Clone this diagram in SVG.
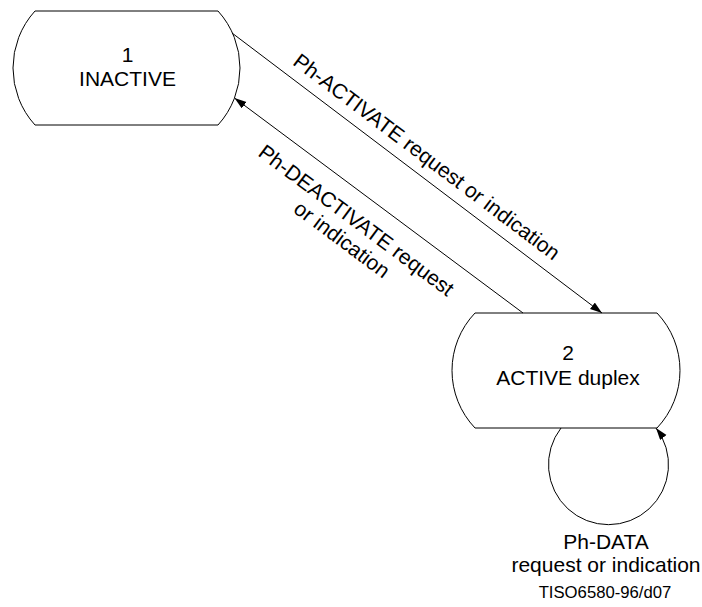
<svg xmlns="http://www.w3.org/2000/svg" width="702" height="607" viewBox="0 0 702 607">
<style>
.node{fill:#fff;stroke:#000;stroke-width:1}
.conn{fill:none;stroke:#000;stroke-width:1}
text{font-family:"Liberation Sans",Arial,sans-serif;font-size:21px;fill:#000;text-anchor:middle}
.small{font-size:16.7px}
</style>
<defs>
<marker id="arr" markerUnits="userSpaceOnUse" markerWidth="13" markerHeight="9" refX="12" refY="4" orient="auto">
<path d="M0,0 L12,4 L0,8 Z" fill="#000"/>
</marker>
</defs>
<rect width="702" height="607" fill="#fff"/>
<g id="node1">
<path class="node" d="M35,11 H218 A84.8,84.8 0 0 1 218,125 H35 A84.8,84.8 0 0 1 35,11 Z"/>
<text x="127.5" y="62">1</text>
<text x="127.5" y="86">INACTIVE</text>
</g>
<g id="node2">
<path class="node" d="M475,313 H657 A83.4,83.4 0 0 1 657,428 H475 A83.4,83.4 0 0 1 475,313 Z"/>
<text x="568" y="360">2</text>
<text x="568" y="385">ACTIVE duplex</text>
</g>
<g id="connectors">
<path class="conn" d="M232,33 L602,313" marker-end="url(#arr)"/>
<path class="conn" d="M523,313 L234.5,98" marker-end="url(#arr)"/>
<path class="conn" d="M561,428 A60,60 0 1 0 656,428" marker-end="url(#arr)"/>
</g>
<g id="labels">
<text transform="translate(422.5,162.5) rotate(37)">Ph-ACTIVATE request or indication</text>
<g transform="translate(352,226) rotate(36.7)">
<text x="0" y="0">Ph-DEACTIVATE request</text>
<text x="0" y="24">or indication</text>
</g>
<text x="606" y="549">Ph-DATA</text>
<text x="606" y="572">request or indication</text>
<text class="small" x="605" y="598">TISO6580-96/d07</text>
</g>
</svg>
